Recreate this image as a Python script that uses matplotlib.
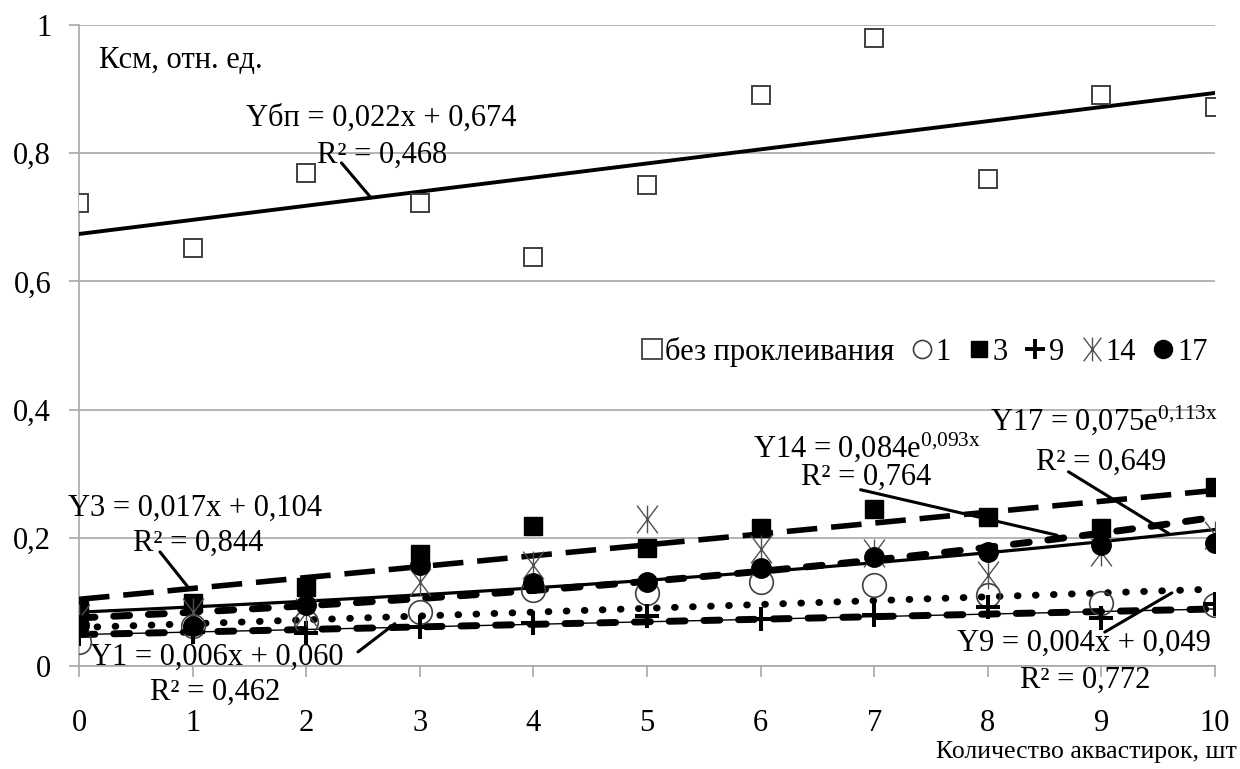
import numpy as np
import matplotlib.pyplot as plt
from matplotlib.path import Path
from matplotlib.lines import Line2D

plt.rcParams['font.family'] = ['Liberation Serif', 'DejaVu Serif']
plt.rcParams['mathtext.fontset'] = 'custom'
plt.rcParams['mathtext.rm'] = 'Liberation Serif'
plt.rcParams['mathtext.it'] = 'Liberation Serif:italic'

# number of aquastripes (x) and Ksm values per series
x = np.arange(0, 11)
y_bp = [0.722, 0.652, 0.769, 0.722, 0.638, 0.750, 0.891, 0.980, 0.760, 0.891, 0.872]
y1 = [0.037, 0.062, 0.068, 0.084, 0.119, 0.114, 0.131, 0.126, 0.111, 0.098, 0.095]
y3 = [0.087, 0.098, 0.124, 0.175, 0.218, 0.184, 0.215, 0.245, 0.232, 0.215, 0.279]
y9 = [0.050, 0.053, 0.052, 0.061, 0.067, 0.078, 0.073, 0.080, 0.092, 0.075, 0.097]
y14 = [0.075, 0.085, 0.085, 0.131, 0.158, 0.230, 0.182, 0.176, 0.142, 0.178, 0.204]
y17 = [0.064, 0.062, 0.095, 0.158, 0.129, 0.131, 0.153, 0.170, 0.178, 0.189, 0.192]

series_labels = ['без проклеивания', '1', '3', '9', '14', '17']

# trend line coefficients (linear: a*x + b, exponential: a*exp(b*x))
lin_bp = (0.022, 0.674)
lin_3 = (0.017, 0.104)
lin_1 = (0.006, 0.060)
lin_9 = (0.004, 0.049)
exp_14 = (0.084, 0.093)
exp_17 = (0.075, 0.113)

y_ticks = [0, 0.2, 0.4, 0.6, 0.8, 1.0]
y_ticklabels = ['0', '0,2', '0,4', '0,6', '0,8', '1']

# asterisk-like marker (X with vertical bar)
star_path = Path([(0, -1), (0, 1), (-0.75, -1), (0.75, 1), (-0.75, 1), (0.75, -1)],
                 [Path.MOVETO, Path.LINETO, Path.MOVETO, Path.LINETO, Path.MOVETO, Path.LINETO])

fs = 22
edge = '#404040'
grid_c = '#a8a8a8'

fig = plt.figure(figsize=(12.4, 7.69), dpi=100)
ax = fig.add_axes([79 / 1240, 1 - 666 / 769, (1215 - 79) / 1240, (666 - 25) / 769])

# markers
ax.plot(x, y_bp, ls='none', marker='s', ms=13, mfc='white', mec=edge, mew=1.4, zorder=4)
ax.plot(x, y1, ls='none', marker='o', ms=17, mfc='none', mec=edge, mew=1.2, zorder=4)
ax.plot(x, y3, ls='none', marker='s', ms=13, mfc='black', mec='black', zorder=4)
ax.plot(x, y9, ls='none', marker='+', ms=17, mec='black', mew=2.9, zorder=4)
ax.plot(x, y14, ls='none', marker=star_path, ms=20, mec='#505050', mew=1.0, zorder=4)
ax.plot(x, y17, ls='none', marker='o', ms=14, mfc='black', mec='black', zorder=4)

# trend lines
xs = np.linspace(0, 10, 300)
ax.plot(xs, lin_bp[0] * xs + lin_bp[1], color='black', lw=2.8, zorder=3)
ax.plot(xs, lin_3[0] * xs + lin_3[1], color='black', lw=4, ls=(0, (5.5, 2.5)), zorder=3)
ax.plot(xs, lin_1[0] * xs + lin_1[1], color='black', lw=5, ls=(0, (0.1, 2.5)),
        dash_capstyle='round', zorder=3)
ax.plot(xs, lin_9[0] * xs + lin_9[1], color='black', lw=1.0, zorder=3)
ax.plot(xs, lin_9[0] * xs + lin_9[1], color='black', lw=5, ls=(0, (2.3, 2.7)),
        dash_capstyle='round', zorder=3)
ax.plot(xs, exp_14[0] * np.exp(exp_14[1] * xs), color='black', lw=2.3, zorder=3)
ax.plot(xs, exp_17[0] * np.exp(exp_17[1] * xs), color='black', lw=5, ls=(0, (2.3, 2.7)),
        dash_capstyle='round', zorder=3)

# axes styling
ax.set_xlim(0, 10)
ax.set_ylim(0, 1)
ax.set_xticks(x)
ax.set_yticks(y_ticks)
ax.set_yticklabels(y_ticklabels)
ax.grid(axis='y', color=grid_c, lw=1.2)
ax.set_axisbelow(True)
for s in ['top', 'right']:
    ax.spines[s].set_visible(False)
for s in ['left', 'bottom']:
    ax.spines[s].set_color(grid_c)
    ax.spines[s].set_linewidth(1.2)
ax.tick_params(axis='x', colors=grid_c, length=8, width=1.2, pad=23, labelsize=fs, labelcolor='black')
ax.tick_params(axis='y', colors=grid_c, length=7, width=1.2, pad=13, labelsize=fs, labelcolor='black')

line_kw = dict(arrowstyle='-', color='black', lw=2.2, shrinkA=0, shrinkB=0)

# annotations
ax.text(0.176, 0.945, 'Ксм, отн. ед.', fontsize=fs, va='center', ha='left')
ax.text(1.47, 0.855, 'Yбп = 0,022x + 0,674', fontsize=fs, va='center', ha='left')
ax.text(2.095, 0.797, 'R² = 0,468', fontsize=fs, va='center', ha='left')
ax.annotate('', xy=(2.57, lin_bp[0] * 2.57 + lin_bp[1]), xytext=(2.31, 0.785), arrowprops=line_kw)

ax.text(-0.097, 0.246, 'Y3 = 0,017x + 0,104', fontsize=fs, va='center', ha='left', clip_on=False)
ax.text(0.475, 0.192, 'R² = 0,844', fontsize=fs, va='center', ha='left')
ax.annotate('', xy=(0.96, 0.123), xytext=(0.713, 0.178), arrowprops=line_kw)

ax.text(0.097, 0.014, 'Y1 = 0,006x + 0,060', fontsize=fs, va='center', ha='left')
ax.text(0.625, -0.041, 'R² = 0,462', fontsize=fs, va='center', ha='left', clip_on=False)
ax.annotate('', xy=(2.78, 0.066), xytext=(2.456, 0.022), arrowprops=line_kw)

ax.text(7.73, 0.036, 'Y9 = 0,004x + 0,049', fontsize=fs, va='center', ha='left')
ax.text(8.28, -0.022, 'R² = 0,772', fontsize=fs, va='center', ha='left', clip_on=False)
ax.annotate('', xy=(9.62, 0.114), xytext=(9.03, 0.053), arrowprops=line_kw)

ax.text(5.93, 0.326, r'Y14 = 0,084e$^{\mathrm{0{,}093x}}$', fontsize=fs, va='baseline', ha='left')
ax.text(6.36, 0.295, 'R² = 0,764', fontsize=fs, va='center', ha='left')
ax.annotate('', xy=(8.61, 0.204), xytext=(6.88, 0.275), arrowprops=line_kw)

ax.text(8.02, 0.368, r'Y17 = 0,075e$^{\mathrm{0{,}113x}}$', fontsize=fs, va='baseline', ha='left')
ax.text(8.42, 0.318, 'R² = 0,649', fontsize=fs, va='center', ha='left')
ax.annotate('', xy=(9.59, 0.207), xytext=(8.71, 0.303), arrowprops=line_kw)

# legend
handles = [
    Line2D([], [], ls='none', marker='s', ms=14, mfc='white', mec=edge, mew=1.3),
    Line2D([], [], ls='none', marker='o', ms=13, mfc='white', mec=edge, mew=1.2),
    Line2D([], [], ls='none', marker='s', ms=12, mfc='black', mec='black'),
    Line2D([], [], ls='none', marker='+', ms=14, mec='black', mew=2.8),
    Line2D([], [], ls='none', marker=star_path, ms=17, mec='#505050', mew=1.0),
    Line2D([], [], ls='none', marker='o', ms=13, mfc='black', mec='black'),
]
ax.legend(handles, series_labels, ncol=6, frameon=False, fontsize=fs,
          loc='center', bbox_to_anchor=(0.744, 0.49), handlelength=0.7,
          handletextpad=0.1, columnspacing=0.55)

fig.text(1237 / 1240, 1 - 752 / 769, 'Количество аквастирок, шт', fontsize=18.5, ha='right', va='center')

fig.savefig('out.png', dpi=100)
